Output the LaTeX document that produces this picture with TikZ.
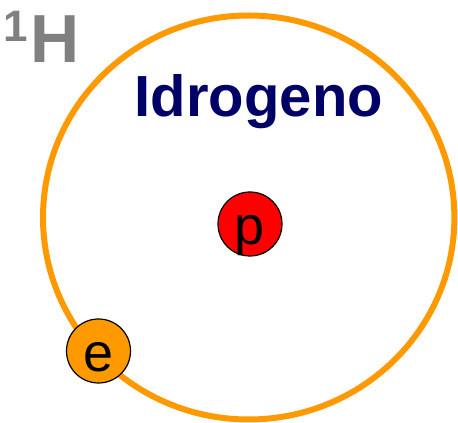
\documentclass[tikz,border=0pt]{standalone}
\usepackage{fontspec}
\setmainfont{Liberation Sans}
\definecolor{orbitorange}{HTML}{FF9900}
\definecolor{titlenavy}{HTML}{000066}
\definecolor{symgray}{HTML}{808080}
\tikzset{
  orbit/.style={draw=orbitorange, line width=6pt},
  particle/.style={circle, draw=black, line width=1.2pt, minimum size=64pt, inner sep=0pt,
    font=\fontsize{54}{54}\selectfont, text height=46pt, text depth=5pt},
}
\begin{document}
\begin{tikzpicture}[x=1pt, y=1pt, line cap=round, line join=round]
    \useasboundingbox (0,0) rectangle (458,423);
    % orbita dell'elettrone
    \draw[orbit] (248.7,205.5) ellipse [x radius=205.7, y radius=202];
    % nucleo e elettrone
    \node[particle, fill=red] (proton) at (250,199) {p};
    \node[particle, fill=orbitorange] (electron) at (98.5,72) {e};
    % scritte
    \node[anchor=base west, inner sep=0pt, text=titlenavy, font=\fontsize{58}{58}\selectfont\bfseries] (name) at (134.6,306.3) {Idrogeno};
    \node[anchor=base west, inner sep=0pt, text=symgray, font=\fontsize{68}{68}\selectfont\bfseries] (sym) at (30,360.3) {H};
    \node[anchor=base west, inner sep=0pt, text=symgray, font=\fontsize{44}{44}\selectfont\bfseries] (mass) at (3.3,381.3) {1};
  \end{tikzpicture}
\end{document}
